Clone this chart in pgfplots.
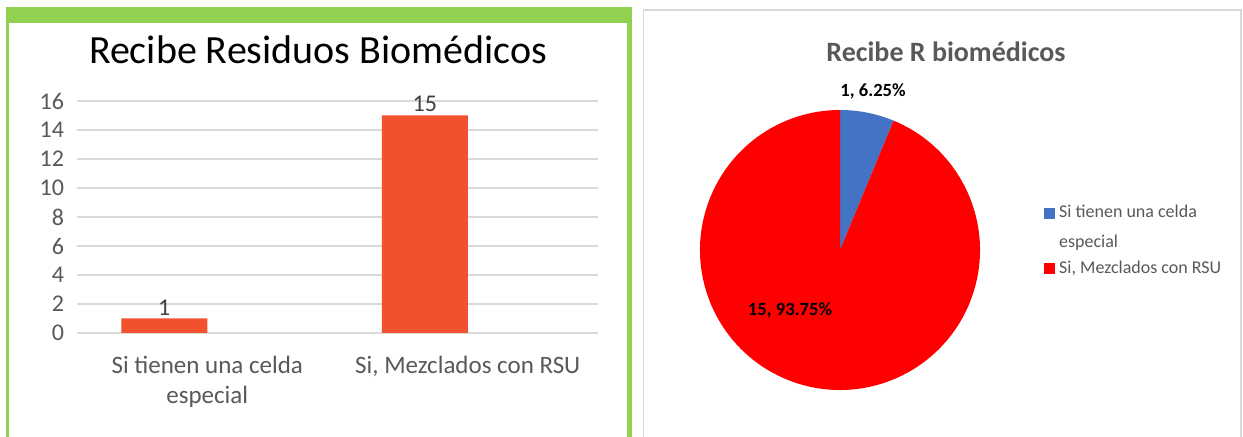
\documentclass[border=0pt]{standalone}
\usepackage{fontspec}
\setmainfont{Carlito}
\usepackage{pgfplots}
\usepackage{pgfplotstable}
\pgfplotsset{compat=1.18}

\definecolor{barorange}{RGB}{241,82,45}
\definecolor{framegreen}{RGB}{146,208,80}
\definecolor{pieblue}{RGB}{68,114,196}
\definecolor{piered}{RGB}{255,0,0}
\definecolor{txtgray}{RGB}{89,89,89}
\definecolor{gridgray}{RGB}{217,217,217}

% categories: 1 = Si tienen una celda especial, 2 = Si, Mezclados con RSU
\pgfplotstableread{
cat value
1   1
2   15
}\biodata

\begin{document}
\begin{tikzpicture}[x=0.5pt,y=0.5pt]
\begin{scope}
\clip (0,0) rectangle (1243,437);
\fill[white] (0,0) rectangle (1243,437);
% panel frames
\fill[framegreen] (6,414) rectangle (631,430);
\fill[framegreen] (6,-5) rectangle (9,430);
\fill[framegreen] (627,-5) rectangle (632,430);
\draw[gridgray, line width=0.8pt] (643.5,-10) rectangle (1241,427);
\end{scope}

\coordinate (barpos) at (77,104);
\coordinate (piepos) at (840,187);

% ---- bar chart
\node[font=\fontsize{20}{24}\selectfont] at (318,387) {Recibe Residuos Biomédicos};
\begin{axis}[
    at={(barpos)}, anchor=south west,
    scale only axis, width=260.5pt, height=116pt,
    xmin=0.5, xmax=2.5, ymin=0, ymax=16,
    xtick={1,2},
    xticklabels={{Si tienen una celda\\especial},{Si, Mezclados con RSU}},
    xticklabel style={align=center, font=\fontsize{12.5}{15}\selectfont, text=txtgray, yshift=-8pt},
    ytick={0,2,...,16},
    yticklabel style={font=\fontsize{12}{14}\selectfont, text=txtgray, xshift=-3pt},
    /pgf/number format/assume math mode=true,
    axis line style={draw=none},
    major tick length=0pt,
    ymajorgrids, grid style={gridgray, line width=0.7pt},
    clip=false,
]
\addplot[ybar, bar width=43pt, bar shift=-21.5pt, fill=barorange, draw=none,
    nodes near coords,
    every node near coord/.append style={font=\fontsize{12}{14}\selectfont, text=black!75, inner sep=1.5pt, xshift=-21.5pt}]
    table[x=cat, y=value] {\biodata};
\end{axis}

% ---- pie chart
\pgfplotstablegetelem{0}{value}\of\biodata \let\va\pgfplotsretval
\pgfplotstablegetelem{1}{value}\of\biodata \let\vb\pgfplotsretval
\pgfmathsetmacro\angA{360*\va/(\va+\vb)}
\pgfmathsetmacro\pctA{100*\va/(\va+\vb)}
\pgfmathsetmacro\pctB{100*\vb/(\va+\vb)}

\node[font=\bfseries\fontsize{14}{17}\selectfont, text=txtgray] at (946,385) {Recibe R biomédicos};
\begin{axis}[
    at={(piepos)}, anchor=center,
    scale only axis, width=140pt, height=140pt,
    xmin=-1, xmax=1, ymin=-1, ymax=1,
    hide axis, clip=false,
    legend style={at={(1.207,0.69)}, anchor=north west, draw=none, fill=none,
        font=\fontsize{9}{15}\selectfont, text=txtgray,
        cells={anchor=west, align=left}, row sep=1pt},
]
\fill[pieblue] (axis cs:0,0) -- ++(90:70pt) arc[start angle=90, end angle={90-\angA}, radius=70pt] -- cycle;
\fill[piered] (axis cs:0,0) -- ++({90-\angA}:70pt) arc[start angle={90-\angA}, end angle=-270, radius=70pt] -- cycle;
\addlegendimage{legend image code/.code={\fill[pieblue] (0pt,5pt) rectangle (5pt,10pt);}}
\addlegendentry{Si tienen una celda\\especial}
\addlegendimage{legend image code/.code={\fill[piered] (0pt,-2.5pt) rectangle (5pt,2.5pt);}}
\addlegendentry{Si, Mezclados con RSU}
\node[font=\bfseries\fontsize{9.3}{11}\selectfont] at (axis cs:0.236,1.13) {\va, \pgfmathprintnumber[fixed,precision=2,fixed zerofill,assume math mode=true]{\pctA}\%};
\node[font=\bfseries\fontsize{9.3}{11}\selectfont] at (axis cs:-0.357,-0.43) {\vb, \pgfmathprintnumber[fixed,precision=2,fixed zerofill,assume math mode=true]{\pctB}\%};
\end{axis}

\pgfresetboundingbox
\path[use as bounding box] (0,0) rectangle (1243,437);
\end{tikzpicture}
\end{document}
